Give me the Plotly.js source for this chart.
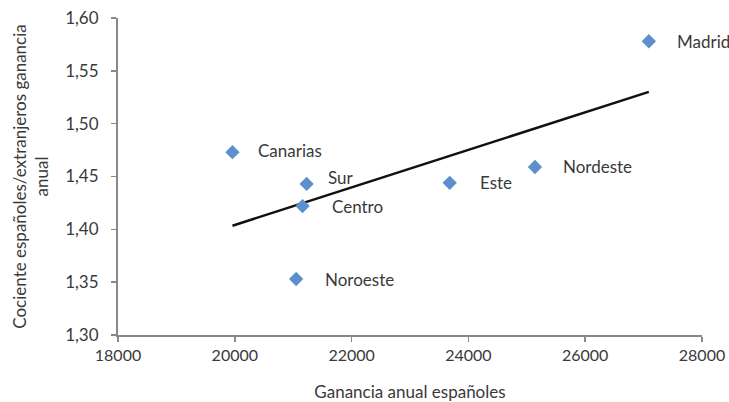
<!DOCTYPE html>
<html>
<head>
<meta charset="utf-8">
<script src="https://cdn.plot.ly/plotly-3.0.1.min.js"></script>
<style>html,body{margin:0;padding:0;background:#fff;}#chart{width:729px;height:402px;}</style>
</head>
<body>
<div id="chart"></div>
<script>
const regions = ["Canarias", "Sur", "Centro", "Noroeste", "Este", "Nordeste", "Madrid"];
const gananciaEsp = [19960, 21230, 21160, 21050, 23680, 25140, 27090];
const cociente = [1.473, 1.443, 1.422, 1.353, 1.444, 1.459, 1.578];
const labelShiftX = [24, 19, 27, 27, 28, 26, 26];
const labelShiftY = [2, 6, 0, 0, 0, 0, 0];

// linear least-squares trend line
const n = gananciaEsp.length;
const mx = gananciaEsp.reduce((a, b) => a + b, 0) / n;
const my = cociente.reduce((a, b) => a + b, 0) / n;
let sxy = 0, sxx = 0;
for (let i = 0; i < n; i++) { sxy += (gananciaEsp[i] - mx) * (cociente[i] - my); sxx += (gananciaEsp[i] - mx) ** 2; }
const slope = sxy / sxx, icpt = my - slope * mx;
const xmin = Math.min(...gananciaEsp), xmax = Math.max(...gananciaEsp);

const font = "Lato, 'Open Sans', sans-serif";
const col = "#3a3a3a";
const traces = [
  { x: [xmin, xmax], y: [icpt + slope * xmin, icpt + slope * xmax], mode: "lines", line: { color: "#111", width: 2.5 }, hoverinfo: "skip", showlegend: false },
  { x: gananciaEsp, y: cociente, mode: "markers", marker: { symbol: "diamond", size: 11, color: "#5b8fcd" }, showlegend: false }
];
const annotations = regions.map((r, i) => ({
  x: gananciaEsp[i], y: cociente[i], text: r, showarrow: false, xanchor: "left", yanchor: "middle",
  xshift: labelShiftX[i], yshift: labelShiftY[i], font: { family: font, size: 17, color: col }
}));
const layout = {
  width: 729, height: 402,
  margin: { l: 118, r: 27, t: 18, b: 67 },
  paper_bgcolor: "#fff", plot_bgcolor: "#fff",
  separators: ",.",
  font: { family: font, size: 16, color: col },
  xaxis: {
    range: [18000, 28000], dtick: 2000, tick0: 18000, tickformat: "d",
    showgrid: false, zeroline: false, showline: true, linecolor: "#888", linewidth: 2,
    ticks: "outside", ticklen: 5, tickcolor: "#888", tickwidth: 1.5,
    tickfont: { family: font, size: 16, color: col },
    title: { text: "Ganancia anual españoles", font: { family: font, size: 17, color: col }, standoff: 28 }
  },
  yaxis: {
    range: [1.30, 1.60], dtick: 0.05, tick0: 1.30, tickformat: ".2f",
    showgrid: false, zeroline: false, showline: true, linecolor: "#888", linewidth: 2,
    ticks: "outside", ticklen: 5, tickcolor: "#888", tickwidth: 1.5, ticklabelstandoff: 9,
    tickfont: { family: font, size: 17, color: col },
    title: { text: "Cociente españoles/extranjeros ganancia<br>anual", font: { family: font, size: 17, color: col }, standoff: 12 }
  },
  annotations: annotations
};
Plotly.newPlot("chart", traces, layout, { displayModeBar: false, staticPlot: true });
</script>
</body>
</html>
